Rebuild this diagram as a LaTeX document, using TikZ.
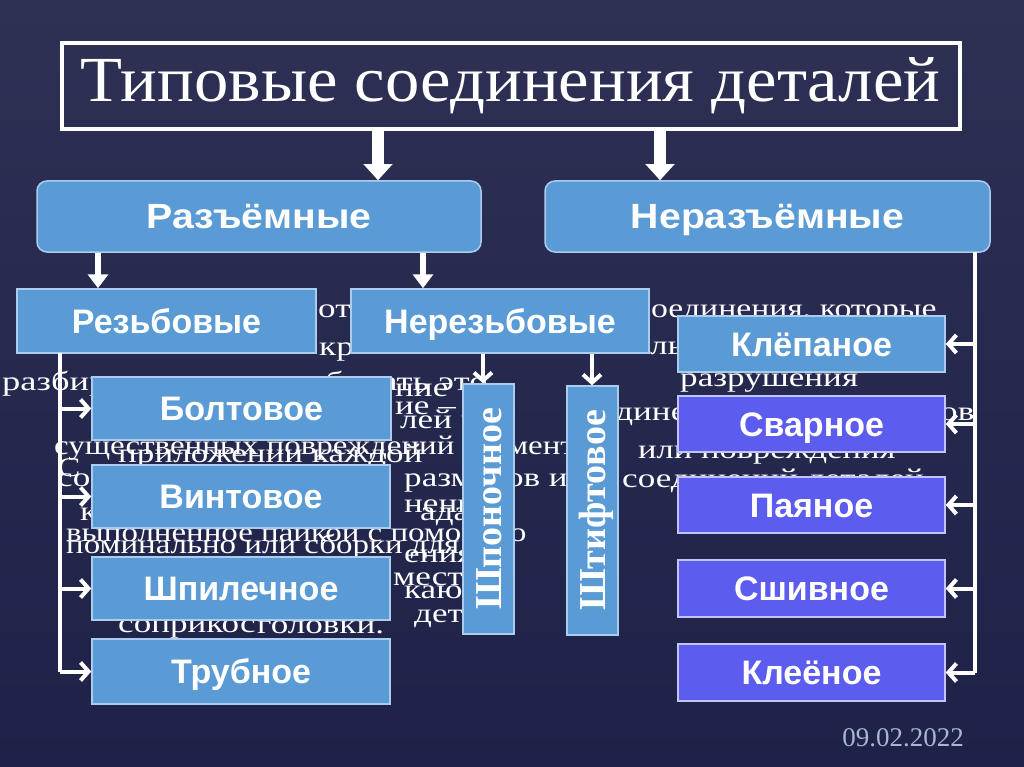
\documentclass[tikz,border=0pt]{standalone}
\usepackage{fontspec}
\setmainfont{Liberation Serif}
\newfontfamily\lsans{Liberation Sans}
\usetikzlibrary{arrows.meta,calc}
\definecolor{bgtop}{RGB}{46,48,84}
\definecolor{bgbot}{RGB}{30,34,72}
\definecolor{boxblue}{RGB}{91,155,213}
\definecolor{boxblueline}{RGB}{170,205,238}
\definecolor{boxpurple}{RGB}{92,92,238}
\definecolor{boxpurpleline}{RGB}{195,195,252}
\definecolor{datecol}{RGB}{172,180,208}
\newcommand\hstretch[2]{\scalebox{#1}[1]{#2}}
\newcommand\mybox[7][]{\node[#1, minimum width={(#5-#3)*1pt}, minimum height={(#6-#4)*1pt}] (#2) at ({(#3+#5)/2},{(#4+#6)/2}) {#7};}
\begin{document}
\begin{tikzpicture}[x=1pt,y=-1pt,
  bluebox/.style={draw=boxblueline, line width=1.5pt, fill=boxblue, text=white, inner sep=0pt,
    text height=24.3pt, text depth=0pt,
    font=\lsans\bfseries\fontsize{34}{34}\selectfont},
  purplebox/.style={bluebox, draw=boxpurpleline, fill=boxpurple},
  topbox/.style={bluebox, rounded corners=10pt, text height=25pt, font=\lsans\bfseries\fontsize{35}{35}\selectfont},
  vertbox/.style={bluebox, rotate=90, text height=25pt, font=\bfseries\fontsize{38}{38}\selectfont},
  bigarrow/.style={draw=white, line width=12pt, -{Triangle[width=28pt,length=16pt]}},
  midarrow/.style={draw=white, line width=6pt, -{Triangle[width=20pt,length=14pt]}},
  chevron/.style={draw=white, line width=4pt, -{Straight Barb[length=8pt,width=18pt]}},
  plainline/.style={draw=white, line width=4pt},
  bgtext/.style={text=white, font=\fontsize{27}{27}\selectfont, anchor=base west, inner sep=0pt},
]
\useasboundingbox (0,0) rectangle (1024,767);
\fill[top color=bgtop, bottom color=bgbot] (0,0) rectangle (1024,767);

% faded background text
\node[bgtext] (bg1) at (318,317) {\hstretch{1.3}{от}};
\node[bgtext] (bg2) at (319,355) {\hstretch{1.3}{кр}};
\node[bgtext] (bg3) at (2,390) {\hstretch{1.35}{разбирать и вновь собирать это}};
\node[bgtext] (bg4) at (395,396) {\hstretch{1.3}{ние}};
\node[bgtext] (bg5) at (395,414) {\hstretch{1.3}{ие – э}};
\node[bgtext] (bg6) at (400,428) {\hstretch{1.3}{лей ч}};
\node[bgtext] (bg7) at (54,454) {\hstretch{1.22}{существенных повреждений элементов}};
\node[bgtext] (bg8) at (118,462) {\hstretch{1.3}{приложении каждой}};
\node[bgtext] (bg9) at (57,476) {\hstretch{1.3}{С}};
\node[bgtext] (bg10) at (57,486) {\hstretch{1.3}{со}};
\node[bgtext] (bg11) at (404,486) {\hstretch{1.3}{размеров их}};
\node[bgtext] (bg12) at (80,520) {\hstretch{1.3}{к}};
\node[bgtext] (bg13) at (404,512) {\hstretch{1.3}{нени}};
\node[bgtext] (bg14) at (420,520) {\hstretch{1.3}{ада а,}};
\node[bgtext] (bg15) at (66,541) {\hstretch{1.22}{выполненное пайкой с помощью}};
\node[bgtext] (bg16) at (66,553) {\hstretch{1.22}{поминально или сборки для}};
\node[bgtext] (bg17) at (404,562) {\hstretch{1.3}{ения}};
\node[bgtext] (bg18) at (393,585) {\hstretch{1.3}{местах}};
\node[bgtext] (bg19) at (404,598) {\hstretch{1.3}{кающ}};
\node[bgtext] (bg20) at (414,622) {\hstretch{1.3}{детал}};
\node[bgtext] (bg21) at (118,632) {\hstretch{1.3}{соприкос}};
\node[bgtext] (bg22) at (257,633) {\hstretch{1.3}{головки.}};
\node[bgtext] (bg23) at (636,317) {\hstretch{1.25}{соединения, которые}};
\node[bgtext] (bg24) at (650,354) {\hstretch{1.3}{ль}};
\node[bgtext] (bg25) at (680,386) {\hstretch{1.3}{разрушения}};
\node[bgtext] (bg26) at (600,420) {\hstretch{1.3}{единения}};
\node[bgtext] (bg27) at (940,420) {\hstretch{1.3}{ов}};
\node[bgtext] (bg28) at (638,458) {\hstretch{1.28}{или повреждения}};
\node[bgtext] (bg29) at (622,487) {\hstretch{1.3}{соединений деталей}};

% title
\node[draw=white, line width=4pt, minimum width=898pt, minimum height=86pt, inner sep=0pt, text=white] (title) at (510.5,86)
  {\resizebox{860pt}{44pt}{\fontsize{63}{63}\selectfont Типовые соединения деталей}};

% boxes
\mybox[topbox]{raz}{37}{181}{481}{252}{\hstretch{1.12}{Разъёмные}}
\mybox[topbox]{neraz}{545}{181}{990}{252}{\hstretch{1.12}{Неразъёмные}}
\mybox[bluebox]{rez}{17}{289}{316}{353}{Резьбовые}
\mybox[bluebox]{nerez}{351}{289}{649}{353}{Нерезьбовые}
\mybox[bluebox]{bolt}{92}{377}{391}{440}{Болтовое}
\mybox[bluebox]{vint}{92}{465}{390}{528}{Винтовое}
\mybox[bluebox]{shpil}{92}{557}{390}{620}{Шпилечное}
\mybox[bluebox]{trub}{92}{639}{390}{704}{Трубное}
\node[vertbox, minimum width=250pt, minimum height=51pt] (shpon) at (488.5,509) {Шпоночное};
\node[vertbox, minimum width=249pt, minimum height=51pt] (shtif) at (592.5,510.5) {Штифтовое};
\mybox[bluebox]{klep}{678}{316}{945}{372}{Клёпаное}
\mybox[purplebox]{svar}{678}{396}{945}{452}{Сварное}
\mybox[purplebox]{pay}{678}{477}{945}{533}{Паяное}
\mybox[purplebox]{shiv}{678}{560}{945}{617}{Сшивное}
\mybox[purplebox]{kleen}{678}{644}{945}{701}{Клеёное}

% date
\node[text=datecol, font=\fontsize{27}{27}\selectfont, inner sep=0pt] (date) at (903,738) {09.02.2022};

% helper coordinates
\coordinate (a1) at (378,0);
\coordinate (a2) at (660,0);
\coordinate (a3) at (98,0);
\coordinate (a4) at (423,0);
\coordinate (a5) at (483,0);
\coordinate (a6) at (592,0);
\coordinate (L) at (60,353);
\coordinate (R) at (975,252);

% connectors
\draw[bigarrow] (title.south -| a1) -- (raz.north -| a1);
\draw[bigarrow] (title.south -| a2) -- (neraz.north -| a2);
\draw[midarrow] (raz.south -| a3) -- (rez.north -| a3);
\draw[midarrow] (raz.south -| a4) -- (nerez.north -| a4);
\draw[chevron] (nerez.south -| a5) -- (shpon.east -| a5);
\draw[chevron] (nerez.south -| a6) -- (shtif.east -| a6);

\draw[plainline] (L) -- (L |- trub.west);
\draw[chevron] (L |- bolt.west) -- (bolt.west);
\draw[chevron] (L |- vint.west) -- (vint.west);
\draw[chevron] (L |- shpil.west) -- (shpil.west);
\draw[chevron] (L |- trub.west) -- (trub.west);

\draw[plainline] (R) -- (R |- kleen.east);
\draw[chevron] (R |- klep.east) -- (klep.east);
\draw[chevron] (R |- svar.east) -- (svar.east);
\draw[chevron] (R |- pay.east) -- (pay.east);
\draw[chevron] (R |- shiv.east) -- (shiv.east);
\draw[chevron] (R |- kleen.east) -- (kleen.east);
\end{tikzpicture}
\end{document}
